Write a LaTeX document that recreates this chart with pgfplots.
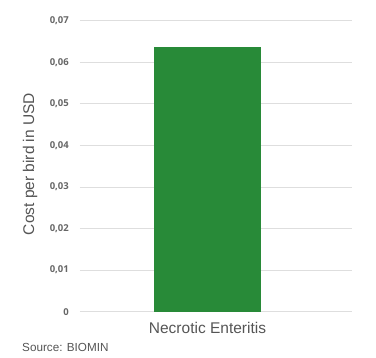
\documentclass[border=0pt]{standalone}
\usepackage{fontspec}
\setmainfont{Liberation Sans}
\newfontfamily\tickfont{Open Sans}
\usepackage{pgfplots}
\pgfplotsset{compat=1.18}
\definecolor{bargreen}{RGB}{40,138,56}
\definecolor{gridgray}{RGB}{222,222,222}
\definecolor{textgray}{RGB}{85,85,85}
\begin{document}
\begin{tikzpicture}[x=1pt,y=1pt]
\useasboundingbox (0,0) rectangle (376,358);
\begin{axis}[
  at={(80pt,46.3pt)}, anchor=south west,
  scale only axis, width=272pt, height=291pt,
  ymin=0, ymax=0.07,
  xmin=-1.19, xmax=1.35,
  axis line style={draw=none},
  scaled y ticks=false,
  ytick={0,0.01,...,0.07},
  yticklabels={0,{0,01},{0,02},{0,03},{0,04},{0,05},{0,06},{0,07}},
  yticklabel style={font=\tickfont\fontsize{9.5}{10}\selectfont\bfseries, text=textgray!90, anchor=east, inner sep=0pt, xshift=-11pt},
  xtick=\empty,
  major tick length=0pt,
  ymajorgrids, grid style={gridgray, line width=0.9pt},
  clip=false,
]
\addplot[ybar, bar width=1, fill=bargreen, draw=none] coordinates {(0,0.0636)};
\end{axis}
\node[text=textgray, font=\fontsize{15.5}{16}\selectfont] at (207.5,30) {Necrotic Enteritis};
\node[text=textgray, font=\fontsize{15.5}{16}\selectfont, rotate=90] at (30,194) {Cost per bird in USD};
\node[text=textgray, font=\fontsize{11.7}{12}\selectfont, anchor=west, inner sep=0pt] at (22,11) {Source: BIOMIN};
\end{tikzpicture}
\end{document}
